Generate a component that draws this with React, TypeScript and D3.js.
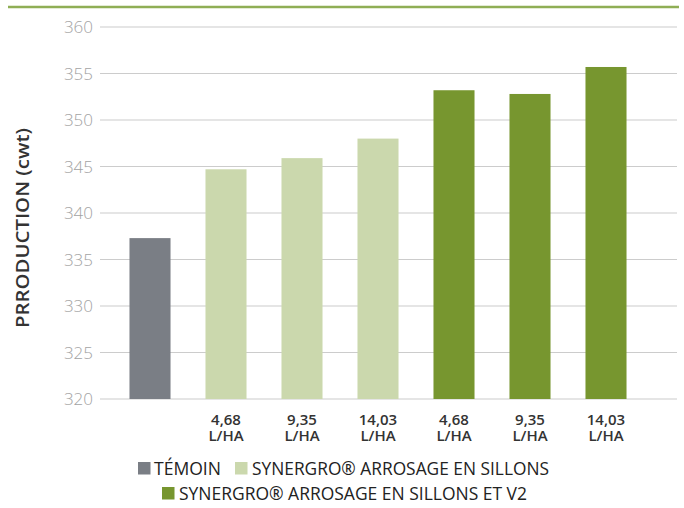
import React, { useEffect, useRef } from 'react';
import * as d3 from 'd3';

const categories = ['temoin', 'sa1', 'sa2', 'sa3', 'sv1', 'sv2', 'sv3'];
const doseLabels = ['', '4,68', '9,35', '14,03', '4,68', '9,35', '14,03'];
const values = [337.3, 344.7, 345.9, 348.0, 353.2, 352.8, 355.7];
const groups = [0, 1, 1, 1, 2, 2, 2];
const yTicks = [320, 325, 330, 335, 340, 345, 350, 355, 360];
const legendNames = ['TÉMOIN', 'SYNERGRO® ARROSAGE EN SILLONS', 'SYNERGRO® ARROSAGE EN SILLONS ET V2'];
const colors = ['#7a7e85', '#cbd8ad', '#77962f'];

const App: React.FC = () => {
  const svgRef = useRef<SVGSVGElement>(null);

  useEffect(() => {
    if (!svgRef.current) return;
    const svg = d3.select(svgRef.current);
    svg.selectAll('*').remove();

    const font = "'Open Sans', sans-serif";

    const x = d3.scaleBand<string>()
      .domain(categories)
      .range([112, 644])
      .paddingInner(0.46)
      .paddingOuter(0.23);

    const y = d3.scaleLinear().domain([320, 360]).range([399, 27]);

    // top accent line
    svg.append('line')
      .attr('x1', 8).attr('x2', 679)
      .attr('y1', 7).attr('y2', 7)
      .attr('stroke', '#8fae55').attr('stroke-width', 2.5);

    // grid
    svg.append('g').selectAll('line')
      .data(yTicks)
      .enter().append('line')
      .attr('x1', 100).attr('x2', 677)
      .attr('y1', d => y(d)).attr('y2', d => y(d))
      .attr('stroke', '#cccccc').attr('stroke-width', 1.2);

    // tick labels
    svg.append('g').selectAll('text')
      .data(yTicks)
      .enter().append('text')
      .attr('x', 93).attr('y', d => y(d))
      .attr('dy', '0.36em')
      .attr('text-anchor', 'end')
      .attr('font-family', font).attr('font-weight', 300)
      .attr('font-size', 17).attr('fill', '#a3a3a3')
      .text(d => d);

    // bars
    svg.append('g').selectAll('rect')
      .data(values)
      .enter().append('rect')
      .attr('x', (_, i) => x(categories[i])!)
      .attr('width', x.bandwidth())
      .attr('y', d => y(d))
      .attr('height', d => y(320) - y(d))
      .attr('fill', (_, i) => colors[groups[i]]);

    // x labels (two lines)
    const labelled = doseLabels.map((d, i) => ({ d, c: categories[i] })).filter(o => o.d);
    const xg = svg.append('g')
      .attr('text-anchor', 'middle')
      .attr('font-family', font).attr('font-weight', 600)
      .attr('font-size', 15).attr('fill', '#333');
    xg.selectAll('text.dose')
      .data(labelled)
      .enter().append('text')
      .attr('class', 'dose')
      .attr('x', o => x(o.c)! + x.bandwidth() / 2)
      .attr('y', 425)
      .text(o => o.d);
    xg.selectAll('text.unit')
      .data(labelled)
      .enter().append('text')
      .attr('class', 'unit')
      .attr('x', o => x(o.c)! + x.bandwidth() / 2)
      .attr('y', 441)
      .text('L/HA');

    // y title
    svg.append('text')
      .attr('transform', 'translate(29,228) rotate(-90)')
      .attr('text-anchor', 'middle')
      .attr('font-family', font).attr('font-weight', 600)
      .attr('font-size', 18).attr('fill', '#333')
      .attr('textLength', 200)
      .attr('lengthAdjust', 'spacingAndGlyphs')
      .text('PRRODUCTION (cwt)');

    // legend
    const legendPos = [
      { sx: 138, sy: 462, tx: 154, ty: 475 },
      { sx: 235, sy: 462, tx: 252, ty: 475 },
      { sx: 162, sy: 487, tx: 179, ty: 500 },
    ];
    const lg = svg.append('g').selectAll('g')
      .data(legendNames)
      .enter().append('g');
    lg.append('rect')
      .attr('x', (_, i) => legendPos[i].sx).attr('y', (_, i) => legendPos[i].sy)
      .attr('width', 12.5).attr('height', 12.5)
      .attr('fill', (_, i) => colors[i]);
    lg.append('text')
      .attr('x', (_, i) => legendPos[i].tx).attr('y', (_, i) => legendPos[i].ty)
      .attr('font-family', font)
      .attr('font-size', 18.5).attr('fill', '#222')
      .attr('textLength', (_, i) => [67, 297, 348][i])
      .attr('lengthAdjust', 'spacingAndGlyphs')
      .text(d => d);
  }, []);

  return (
    <svg ref={svgRef} width={684} height={508}
      style={{ position: 'absolute', left: 0, top: 0, background: '#fff' }} />
  );
};

export default App;
